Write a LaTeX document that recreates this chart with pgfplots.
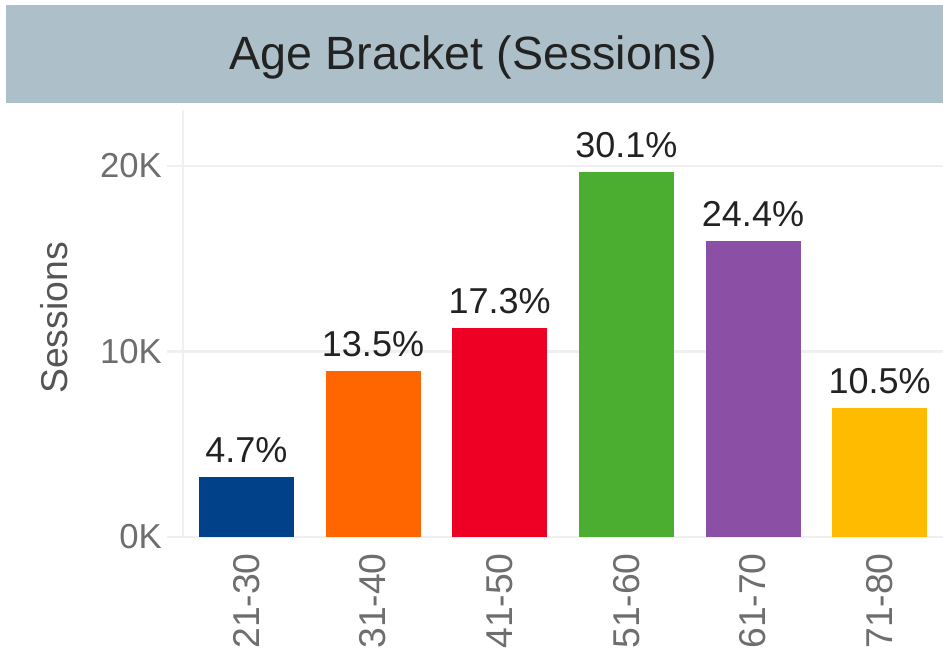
\documentclass[border=0pt]{standalone}
\usepackage{fontspec}
\setmainfont{Liberation Sans}
\usepackage{pgfplots}
\pgfplotsset{compat=1.18}

\definecolor{bandcol}{HTML}{ADBFC8}
\definecolor{gridcol}{HTML}{F0F0F0}
\definecolor{titlecol}{HTML}{222222}
\definecolor{labelcol}{HTML}{222222}
\definecolor{tickcol}{HTML}{6E6E6E}
\definecolor{axislabcol}{HTML}{555555}
\definecolor{cA}{HTML}{00418A}
\definecolor{cB}{HTML}{FF6600}
\definecolor{cC}{HTML}{EE0025}
\definecolor{cD}{HTML}{4BAE30}
\definecolor{cE}{HTML}{8B4FA6}
\definecolor{cF}{HTML}{FFBB00}

\begin{document}
\begin{tikzpicture}
\path[use as bounding box] (0,0) rectangle (707.25pt,486.75pt);
% title band
\fill[bandcol] (4.5pt,409.5pt) rectangle (707.25pt,483pt);
\node[anchor=base, font=\fontsize{35}{40}\selectfont, text=titlecol] at (355pt,434.25pt) {Age Bracket (Sessions)};

\begin{axis}[
    at={(137.25pt,84pt)}, anchor=south west,
    scale only axis,
    width=570pt, height=320.25pt,
    xmin=-0.5, xmax=5.5,
    ymin=0, ymax=23019,
    ybar, bar width=71.25pt, bar shift=0pt,
    axis x line*=bottom, axis y line*=left,
    axis line style={draw=gridcol, line width=2pt, -},
    tick align=outside, major tick length=12pt,
    xtick={0,1,2,3,4,5},
    xticklabels={21-30,31-40,41-50,51-60,61-70,71-80},
    xtick style={draw=none},
    xticklabel style={rotate=90, anchor=east, inner sep=0pt,
      font=\fontsize{28}{30}\selectfont, text=tickcol},
    extra x ticks={-0.5,0.5,1.5,2.5,3.5,4.5,5.5},
    extra x tick labels={},
    extra x tick style={grid=none, tick style={draw=gridcol, line width=2pt}},
    ytick={0,10000,20000},
    yticklabels={0K,10K,20K},
    scaled y ticks=false,
    ytick style={draw=gridcol, line width=2pt},
    yticklabel style={anchor=east, inner sep=0pt,
      font=\fontsize{26}{28}\selectfont, text=tickcol},
    yticklabel shift=3.75pt,
    /pgf/number format/assume math mode=true,
    ymajorgrids,
    major grid style={draw=gridcol, line width=2pt},
    ylabel={Sessions},
    ylabel style={at={(axis description cs:-0.17,0.513)}, anchor=center,
      font=\fontsize{28}{30}\selectfont, text=axislabcol},
    point meta=explicit symbolic,
    nodes near coords,
    every node near coord/.append style={anchor=south, inner sep=0pt, yshift=11pt,
      font=\fontsize{27}{30}\selectfont, text=labelcol},
  ]
  \addplot[fill=cA, draw=none] coordinates {(0,3218) [4.7\%]};
  \addplot[fill=cB, draw=none] coordinates {(1,8933) [13.5\%]};
  \addplot[fill=cC, draw=none] coordinates {(2,11251) [17.3\%]};
  \addplot[fill=cD, draw=none] coordinates {(3,19660) [30.1\%]};
  \addplot[fill=cE, draw=none] coordinates {(4,15940) [24.4\%]};
  \addplot[fill=cF, draw=none] coordinates {(5,6938) [10.5\%]};
\end{axis}
\end{tikzpicture}
\end{document}
